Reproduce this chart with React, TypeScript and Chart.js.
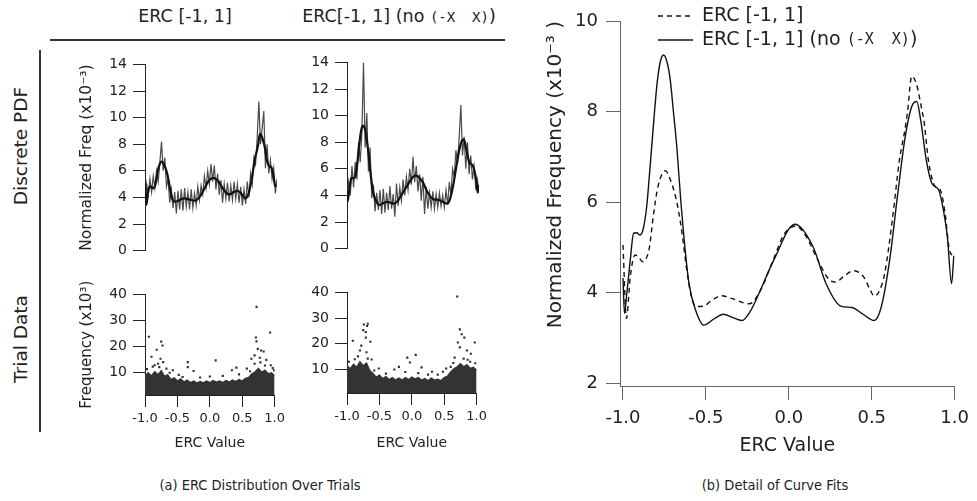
import React, { useEffect, useRef } from "react";
import { Chart, registerables } from "chart.js";

Chart.register(...registerables);

const FONT = "'DejaVu Sans', sans-serif";
const MONO = "'DejaVu Sans Mono', monospace";
const NARROW = "'Liberation Sans Narrow', 'DejaVu Sans Condensed', Roboto, sans-serif";
const INK = "#222";

// ---------------- text ----------------
const columnTitles = ["ERC [-1, 1]", "ERC[-1, 1] (no (-X  X))"];
const rowTitles = ["Discrete PDF", "Trial Data"];
const captions = ["(a) ERC Distribution Over Trials", "(b) Detail of Curve Fits"];
const seriesNames = ["ERC [-1, 1]", "ERC [-1, 1] (no (-X  X))"];
const MONO_TOKEN = "(-X  X)";

// ---------------- tick values ----------------
const pdfTicks = [0, 2, 4, 6, 8, 10, 12, 14];
const trialTicks = [10, 20, 30, 40];
const ercTicks = [-1, -0.5, 0, 0.5, 1];
const detailTicks = [2, 4, 6, 8, 10];

// ---------------- discrete PDF (raw histogram, evenly spaced bins over [-1, 1]) ----------------
const pdfRawAll = [
  3.3, 5.0, 4.2, 5.4, 4.4, 5.6, 4.7, 6.0, 5.2, 6.6,
  8.2, 6.0, 7.0, 4.8, 5.4, 3.6, 4.6, 3.2, 4.4, 2.8,
  4.5, 3.1, 4.6, 3.0, 4.7, 3.3, 4.4, 3.1, 4.6, 3.2,
  4.3, 3.4, 4.8, 3.8, 4.9, 4.2, 5.6, 4.7, 6.0, 5.0,
  6.5, 5.2, 6.4, 4.6, 5.8, 4.2, 5.3, 3.6, 5.0, 3.9,
  5.1, 3.7, 4.9, 3.8, 5.2, 3.9, 5.0, 3.6, 4.8, 3.4,
  4.6, 3.5, 5.2, 4.0, 5.8, 5.0, 7.0, 6.5, 8.5, 11.2,
  8.0, 9.2, 10.5, 6.2, 8.0, 5.8, 6.8, 5.4, 6.2, 4.3,
  5.4,
];
const pdfRawNoX = [
  3.5, 5.0, 4.0, 6.2, 4.6, 6.5, 5.2, 8.0, 6.5, 8.6,
  14.0, 7.6, 10.2, 5.8, 7.6, 3.8, 4.8, 2.8, 4.2, 2.9,
  4.4, 2.6, 4.5, 2.7, 4.2, 2.9, 4.7, 3.0, 4.1, 2.4,
  4.9, 3.2, 4.6, 3.6, 5.2, 4.0, 5.4, 4.4, 6.0, 4.8,
  6.9, 5.0, 6.2, 4.3, 5.6, 3.6, 5.4, 2.6, 4.6, 3.0,
  4.2, 3.1, 4.3, 3.0, 4.1, 3.1, 4.2, 3.2, 4.0, 3.1,
  4.4, 3.3, 5.0, 4.0, 6.0, 5.4, 7.4, 6.4, 8.4, 10.8,
  7.0, 8.4, 6.0, 8.0, 5.6, 7.0, 5.2, 6.2, 4.6, 5.2,
  4.2,
];

// ---------------- curve fits [ERC value, normalized frequency x1e-3] ----------------
const fitAll: [number, number][] = [
  [-1.0, 5.05], [-0.979, 3.43], [-0.956, 4.35], [-0.927, 4.83], [-0.91, 4.8], [-0.88, 4.68],
  [-0.86, 4.75], [-0.84, 5.01], [-0.818, 5.67], [-0.789, 6.34], [-0.745, 6.69], [-0.71, 6.45],
  [-0.67, 5.9], [-0.641, 5.23], [-0.618, 4.57], [-0.592, 3.98], [-0.562, 3.69], [-0.513, 3.7],
  [-0.464, 3.83], [-0.405, 3.93], [-0.346, 3.87], [-0.238, 3.75], [-0.169, 4.06], [-0.09, 4.76],
  [-0.031, 5.27], [0.041, 5.47], [0.106, 5.23], [0.165, 4.79], [0.244, 4.28], [0.283, 4.23],
  [0.332, 4.36], [0.391, 4.48], [0.45, 4.35], [0.49, 4.06], [0.515, 3.92], [0.549, 4.06],
  [0.578, 4.42], [0.624, 5.6], [0.667, 6.93], [0.7, 7.6], [0.716, 8.0], [0.741, 8.78],
  [0.77, 8.6], [0.804, 8.0], [0.814, 7.81], [0.844, 6.86], [0.883, 6.34], [0.913, 6.27],
  [0.942, 5.75], [0.968, 4.94], [0.99, 4.81],
];
const fitNoX: [number, number][] = [
  [-1.0, 4.32], [-0.991, 3.54], [-0.975, 4.05], [-0.956, 4.72], [-0.936, 5.31], [-0.916, 5.32],
  [-0.897, 5.27], [-0.877, 5.42], [-0.857, 5.9], [-0.838, 6.71], [-0.814, 7.81], [-0.795, 8.6],
  [-0.775, 9.1], [-0.755, 9.25], [-0.735, 9.1], [-0.715, 8.7], [-0.696, 8.0], [-0.675, 7.2],
  [-0.651, 6.0], [-0.631, 5.16], [-0.602, 4.2], [-0.562, 3.61], [-0.513, 3.28], [-0.45, 3.42],
  [-0.395, 3.52], [-0.34, 3.45], [-0.283, 3.38], [-0.23, 3.6], [-0.189, 3.91], [-0.09, 4.72],
  [0.037, 5.51], [0.146, 5.01], [0.224, 4.2], [0.313, 3.7], [0.38, 3.67], [0.44, 3.54],
  [0.515, 3.38], [0.558, 3.69], [0.608, 4.72], [0.657, 6.19], [0.7, 7.4], [0.74, 8.1],
  [0.771, 8.22], [0.795, 7.81], [0.83, 6.9], [0.863, 6.41], [0.903, 6.27], [0.932, 5.82],
  [0.956, 5.23], [0.981, 4.2], [0.995, 4.81],
];

// ---------------- trial data: top of the dense cloud (x1e3), bins every 0.05 over [-1, 1] ----------------
const trialDenseAll = [
  8.5, 9.8, 8.6, 10.2, 9.0, 10.6, 8.4, 9.0, 7.2, 7.8,
  6.6, 7.4, 6.2, 7.0, 6.0, 6.6, 5.8, 6.4, 5.9, 6.6,
  6.0, 6.8, 6.2, 6.6, 6.0, 6.8, 6.2, 7.0, 6.4, 7.2,
  6.6, 7.6, 8.0, 9.4, 10.2, 11.4, 10.0, 10.8, 9.4, 9.8,
  8.6,
];
const trialDenseNoX = [
  11.5, 10.2, 12.0, 10.8, 13.0, 11.4, 12.4, 9.6, 8.4, 7.0,
  7.8, 6.4, 7.2, 6.0, 6.8, 5.8, 6.6, 5.8, 6.8, 6.0,
  7.0, 6.2, 6.8, 5.8, 6.4, 5.6, 6.6, 5.8, 6.2, 5.6,
  6.8, 7.4, 9.0, 10.2, 11.0, 12.2, 11.0, 11.8, 10.4, 10.8,
  9.6,
];
// isolated trials above the cloud [ERC value, frequency x1e3]
const trialSparseAll: [number, number][] = [
  [-0.94, 23.7], [-0.9, 16.0], [-0.82, 18.7], [-0.75, 21.8], [-0.73, 20.3], [-0.8, 13.3],
  [-0.76, 15.2], [-0.72, 13.9], [-0.85, 12.7], [-0.67, 11.4], [-0.57, 10.8], [-0.34, 13.9],
  [-0.34, 12.0], [-0.25, 10.5], [0.09, 14.6], [0.34, 10.8], [0.41, 11.8], [0.57, 11.4],
  [0.69, 13.3], [0.72, 35.2], [0.71, 23.4], [0.72, 21.9], [0.74, 19.0], [0.79, 18.4],
  [0.83, 18.0], [0.69, 16.5], [0.77, 15.6], [0.87, 14.8], [0.93, 25.3], [0.94, 12.7],
  [0.64, 15.2], [-0.97, 11.2], [-0.88, 12.2], [-0.78, 12.0], [-0.62, 9.8], [-0.48, 9.0],
  [-0.42, 8.2], [-0.15, 8.0], [0.0, 8.4], [0.2, 8.6], [0.45, 9.2], [0.62, 10.4],
  [0.78, 13.8], [0.85, 12.6], [0.97, 11.6], [0.99, 10.8],
];
const trialSparseNoX: [number, number][] = [
  [-0.91, 21.2], [-0.78, 19.3], [-0.8, 17.4], [-0.75, 25.3], [-0.71, 24.6], [-0.69, 26.9],
  [-0.68, 27.8], [-0.74, 27.5], [-0.71, 22.4], [-0.64, 20.8], [-0.83, 15.1], [-0.68, 14.2],
  [-0.7, 16.7], [-0.62, 13.9], [-0.51, 10.4], [-0.27, 10.0], [-0.2, 11.0], [-0.07, 14.6],
  [-0.03, 12.7], [0.06, 15.7], [0.15, 10.8], [0.31, 9.1], [0.48, 9.1], [0.53, 10.4],
  [0.7, 38.4], [0.74, 25.6], [0.77, 23.7], [0.81, 22.4], [0.71, 20.5], [0.74, 18.6],
  [0.85, 17.4], [0.91, 16.1], [0.97, 20.5], [0.8, 14.2], [0.86, 13.8], [0.66, 14.6],
  [0.64, 12.5], [-0.97, 13.0], [-0.88, 14.0], [-0.58, 9.6], [-0.4, 8.4], [-0.1, 9.0],
  [0.1, 8.6], [0.25, 8.0], [0.4, 8.0], [0.6, 11.0], [0.9, 13.0], [0.98, 12.4],
];

// ---------------- helpers ----------------
const binned = (vals: number[]) => vals.map((v, i) => ({ x: -1 + (2 * i) / (vals.length - 1), y: v }));
const pairs = (p: [number, number][]) => p.map(([x, y]) => ({ x, y }));

function splitMono(text: string): [string, boolean][] {
  const i = text.indexOf(MONO_TOKEN);
  if (i < 0) return [[text, false]];
  return [
    [text.slice(0, i), false],
    [MONO_TOKEN, true],
    [text.slice(i + MONO_TOKEN.length), false],
  ];
}

type AxisOpt = {
  min: number; max: number; ticks: number[]; size: number; tickSize: number; tickLen: number;
  tickPad: number; color: string; title?: string; titleSize?: number; titlePad?: number;
  titleAlign?: string; fmt?: (v: number) => string;
};

function leftAxis(o: AxisOpt) {
  return {
    type: "linear", position: "left", min: o.min, max: o.max,
    afterBuildTicks: (s: any) => { s.ticks = o.ticks.map((v) => ({ value: v })); },
    afterFit: (s: any) => { s.width = o.size; },
    border: { display: true, color: o.color, width: 1 },
    grid: { display: true, drawOnChartArea: false, drawTicks: true, tickLength: o.tickLen, tickColor: o.color, tickWidth: 1 },
    ticks: { font: { family: FONT, size: o.tickSize }, color: INK, padding: o.tickPad, autoSkip: false, maxRotation: 0,
      callback: (v: any) => (o.fmt ? o.fmt(Number(v)) : String(v)) },
    title: o.title
      ? { display: true, text: o.title, align: o.titleAlign || "center", font: { family: FONT, size: o.titleSize }, color: INK, padding: { top: o.titlePad, bottom: 0 } }
      : { display: false },
  };
}

function bottomAxis(o: AxisOpt) {
  return {
    type: "linear", position: "bottom", min: o.min, max: o.max,
    afterBuildTicks: (s: any) => { s.ticks = o.ticks.map((v) => ({ value: v })); },
    afterFit: (s: any) => { s.height = o.size; },
    border: { display: true, color: o.color, width: 1 },
    grid: { display: true, drawOnChartArea: false, drawTicks: true, tickLength: o.tickLen, tickColor: o.color, tickWidth: 1 },
    ticks: { font: { family: FONT, size: o.tickSize }, color: INK, padding: o.tickPad, autoSkip: false, maxRotation: 0, minRotation: 0,
      callback: (v: any) => (o.fmt ? o.fmt(Number(v)) : String(v)) },
    title: o.title
      ? { display: true, text: o.title, font: { family: FONT, size: o.titleSize }, color: INK, padding: { top: 0, bottom: o.titlePad } }
      : { display: false },
  };
}

const hiddenX = { type: "linear", display: false, min: -1, max: 1 };
const fmt1 = (v: number) => v.toFixed(1);

function baseOptions(padding: any, scales: any, extra: any = {}) {
  return {
    responsive: false, maintainAspectRatio: false, animation: false, events: [],
    layout: { padding },
    plugins: { legend: { display: false }, tooltip: { enabled: false }, title: { display: false } },
    scales, ...extra,
  };
}

type Box = { left: number; top: number; width: number; height: number };

function ChartCanvas({ box, make }: { box: Box; make: () => any }) {
  const ref = useRef<HTMLCanvasElement>(null);
  useEffect(() => {
    const chart = new Chart(ref.current as HTMLCanvasElement, make());
    return () => chart.destroy();
  }, []);
  return (
    <canvas
      ref={ref}
      width={box.width}
      height={box.height}
      style={{ position: "absolute", left: box.left, top: box.top, width: box.width, height: box.height }}
    />
  );
}

// ---------------- chart configs ----------------
function pdfConfig(raw: number[], fit: [number, number][], withTitle: boolean, pad: any) {
  return {
    type: "line",
    data: {
      datasets: [
        { data: pairs(fit), borderColor: "#111", borderWidth: 2.2, pointRadius: 0, cubicInterpolationMode: "monotone", fill: false },
        { data: binned(raw), borderColor: "#4a4a4a", borderWidth: 1.2, pointRadius: 0, tension: 0, fill: false },
      ],
    },
    options: baseOptions(pad, {
      x: hiddenX,
      y: leftAxis({
        min: 0, max: 14, ticks: pdfTicks, size: 85, tickSize: 14, tickLen: 12, tickPad: 6, color: "#222",
        title: withTitle ? "Normalized Freq (x10\u207B\u00B3)" : undefined, titleSize: 15.5, titlePad: 18, titleAlign: "end",
      }),
    }),
  };
}

function trialConfig(dense: number[], sparse: [number, number][], yMin: number, withTitle: boolean, pad: any, xSize: number) {
  return {
    type: "line",
    data: {
      datasets: [
        { data: pairs(sparse), showLine: false, pointRadius: 1.5, pointStyle: "rect", pointBackgroundColor: "#2e2e2e", pointBorderWidth: 0 },
        { data: binned(dense), borderColor: "#333", backgroundColor: "#333", borderWidth: 1.5, pointRadius: 0, tension: 0, fill: "start" },
      ],
    },
    options: baseOptions(pad, {
      x: bottomAxis({
        min: -1, max: 1, ticks: ercTicks, size: xSize, tickSize: 13, tickLen: 12, tickPad: 4, color: "#222",
        title: "ERC Value", titleSize: 14, titlePad: 3.6, fmt: fmt1,
      }),
      y: leftAxis({
        min: yMin, max: 40, ticks: trialTicks, size: 85, tickSize: 14, tickLen: 12, tickPad: 6, color: "#222",
        title: withTitle ? "Frequency (x10\u00B3)" : undefined, titleSize: 15, titlePad: 18,
      }),
    }),
  };
}

const detailLegend = {
  id: "detailLegend",
  afterDraw(chart: any) {
    const ctx = chart.ctx as CanvasRenderingContext2D;
    const rows = [
      { y: 16, dash: [5, 4], text: seriesNames[0] },
      { y: 40, dash: [] as number[], text: seriesNames[1] },
    ];
    ctx.save();
    for (const r of rows) {
      ctx.strokeStyle = "#111";
      ctx.lineWidth = 1.4;
      ctx.setLineDash(r.dash);
      ctx.beginPath();
      ctx.moveTo(128, r.y);
      ctx.lineTo(163, r.y);
      ctx.stroke();
      ctx.setLineDash([]);
      ctx.fillStyle = INK;
      ctx.textBaseline = "middle";
      ctx.textAlign = "left";
      let x = 172;
      for (const [t, mono] of splitMono(r.text)) {
        ctx.font = mono ? `15px ${MONO}` : `19px ${FONT}`;
        ctx.fillText(t, x, r.y);
        x += ctx.measureText(t).width;
      }
    }
    ctx.restore();
  },
};

function detailConfig() {
  return {
    type: "line",
    data: {
      datasets: [
        { label: seriesNames[0], data: pairs(fitAll), borderColor: "#111", borderWidth: 1.4, borderDash: [5, 4], pointRadius: 0, cubicInterpolationMode: "monotone", fill: false },
        { label: seriesNames[1], data: pairs(fitNoX), borderColor: "#111", borderWidth: 1.4, pointRadius: 0, cubicInterpolationMode: "monotone", fill: false },
      ],
    },
    options: baseOptions({ left: 0, top: 21, right: 15, bottom: 0 }, {
      x: bottomAxis({
        min: -1.018, max: 1, ticks: ercTicks, size: 74, tickSize: 18, tickLen: 14, tickPad: 8, color: "#666",
        title: "ERC Value", titleSize: 19, titlePad: 3, fmt: fmt1,
      }),
      y: leftAxis({
        min: 1.934, max: 10, ticks: detailTicks, size: 90, tickSize: 18, tickLen: 14, tickPad: 8, color: "#666",
        title: "Normalized Frequency (x10\u207B\u00B3 )", titleSize: 20, titlePad: 14, titleAlign: "end",
      }),
    }),
    plugins: [detailLegend],
  };
}

function Mixed({ text, monoScale }: { text: string; monoScale: number }) {
  return (
    <>
      {splitMono(text).map(([t, mono], i) => (
        <span key={i} style={mono ? { fontFamily: MONO, fontSize: `${monoScale}em` } : { fontFamily: FONT }}>{t}</span>
      ))}
    </>
  );
}

export default function App() {
  const abs = (s: any) => ({ position: "absolute" as const, whiteSpace: "pre" as const, lineHeight: 1, ...s });
  return (
    <div style={{ position: "absolute", left: 0, top: 0, width: 977, height: 501, overflow: "hidden", background: "#fff", fontFamily: FONT, color: INK }}>
      {/* column headers */}
      <div style={abs({ left: 185, top: 17, fontSize: 17.5, transform: "translate(-50%, -50%)" })}><Mixed text={columnTitles[0]} monoScale={0.8} /></div>
      <div style={abs({ left: 399, top: 17, fontSize: 17.5, transform: "translate(-50%, -50%)" })}><Mixed text={columnTitles[1]} monoScale={0.8} /></div>
      <div style={{ position: "absolute", left: 50, top: 39, width: 455, height: 2, background: "#333" }} />
      {/* row headers */}
      <div style={{ position: "absolute", left: 39, top: 50, width: 1.5, height: 382, background: "#333" }} />
      <div style={abs({ left: 21, top: 146, fontSize: 18.5, transform: "translate(-50%, -50%) rotate(-90deg)" })}>{rowTitles[0]}</div>
      <div style={abs({ left: 21, top: 339, fontSize: 18.5, transform: "translate(-50%, -50%) rotate(-90deg)" })}>{rowTitles[1]}</div>

      <ChartCanvas box={{ left: 60, top: 50, width: 229, height: 215 }} make={() => pdfConfig(pdfRawAll, fitAll, true, { left: 0, top: 10, right: 12, bottom: 5 })} />
      <ChartCanvas box={{ left: 262, top: 48, width: 229, height: 215 }} make={() => pdfConfig(pdfRawNoX, fitNoX, false, { left: 0, top: 10, right: 12, bottom: 6 })} />
      <ChartCanvas box={{ left: 60, top: 280, width: 229, height: 175 }} make={() => trialConfig(trialDenseAll, trialSparseAll, 1.25, true, { left: 0, top: 13, right: 12, bottom: 0 }, 60)} />
      <ChartCanvas box={{ left: 262, top: 278, width: 229, height: 177 }} make={() => trialConfig(trialDenseNoX, trialSparseNoX, 0.84, false, { left: 0, top: 13, right: 12, bottom: 0 }, 62)} />
      <ChartCanvas box={{ left: 530, top: 0, width: 447, height: 460 }} make={detailConfig} />

      {/* captions */}
      <div style={abs({ left: 260, top: 485, fontSize: 14.5, fontFamily: NARROW, transform: "translate(-50%, -50%)" })}>{captions[0]}</div>
      <div style={abs({ left: 775, top: 485, fontSize: 14.5, fontFamily: NARROW, transform: "translate(-50%, -50%)" })}>{captions[1]}</div>
    </div>
  );
}
